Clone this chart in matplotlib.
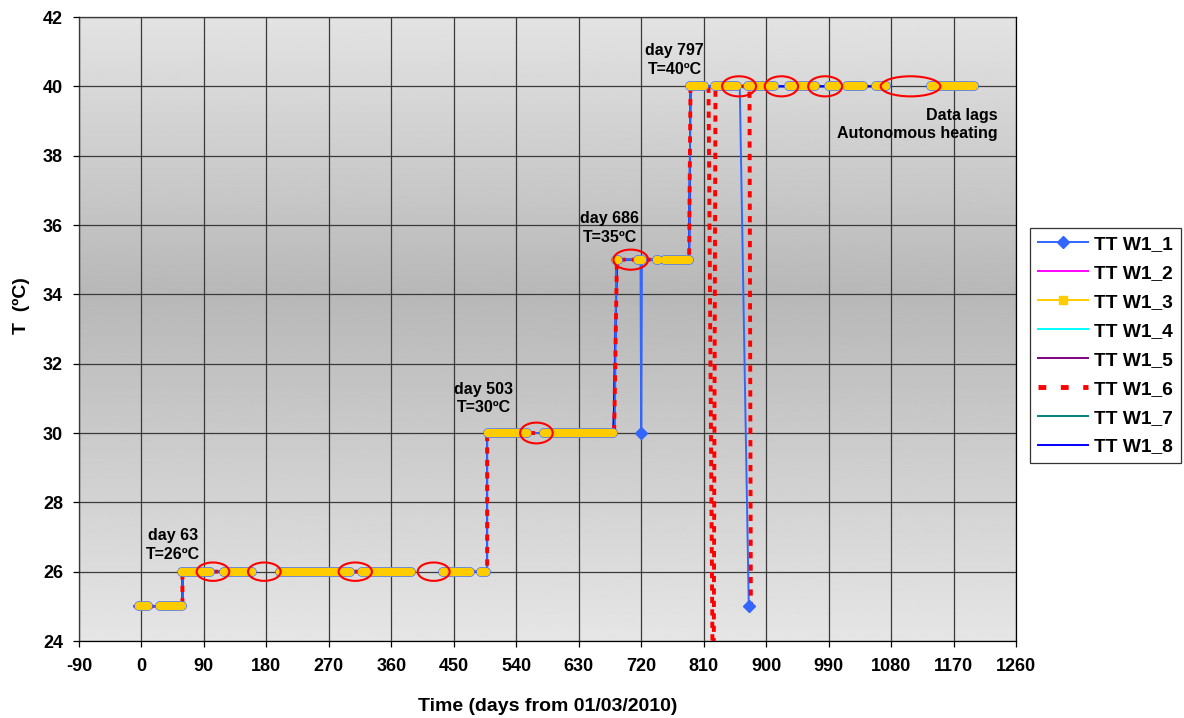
import numpy as np
import matplotlib
matplotlib.use("Agg")
import matplotlib.pyplot as plt
from matplotlib.patches import Ellipse
from matplotlib.lines import Line2D
import matplotlib.patheffects as pe

plt.rcParams['font.family'] = ['Liberation Sans', 'DejaVu Sans']
plt.rcParams['font.weight'] = 'bold'
plt.rcParams['axes.unicode_minus'] = False

nan = np.nan

# TT W1_3 (yellow, dense logging, blank cells = data gaps)
w13_x = [-4, 10, nan, 26, 59, nan, 59, 99, nan, 119, 159, nan, 200, 300, nan, 318, 389, nan,
         435, 473, nan, 489, 497, nan, 499, 556, nan, 580, 680, nan, 684, 686, nan, 716, 721, nan,
         743, 744, nan, 755, 789, nan, 791, 811, nan, 826, 858, nan, 874, 912, nan, 933, 971, nan,
         991, 1002, nan, 1017, 1039, nan, 1058, 1073, nan, 1137, 1199]
w13_y = [25, 25, nan, 25, 25, nan, 26, 26, nan, 26, 26, nan, 26, 26, nan, 26, 26, nan,
         26, 26, nan, 26, 26, nan, 30, 30, nan, 30, 30, nan, 35, 35, nan, 35, 35, nan,
         35, 35, nan, 35, 35, nan, 40, 40, nan, 40, 40, nan, 40, 40, nan, 40, 40, nan,
         40, 40, nan, 40, 40, nan, 40, 40, nan, 40, 40]

# TT W1_1 (drops to 30 at day ~720 and to 25 at day ~875)
w11_x = [-10, 59, 59, 160, nan, 199, 389, nan, 435, 498, 498, 682, 684, 719, 720, 721, 789, 791, 862, 875]
w11_y = [25, 25, 26, 26, nan, 26, 26, nan, 26, 26, 30, 30, 35, 35, 30, 35, 35, 40, 40, 25]

# TT W1_6 (fails around day 817-827 and drops at day ~877)
w16_x = [-10, 59, 59, 160, nan, 199, 389, nan, 435, 498, 498, 681, 685, 789, 791, 817, 824, 827, 876, 878]
w16_y = [25, 25, 26, 26, nan, 26, 26, nan, 26, 26, 30, 30, 35, 35, 40, 40, 20, 40, 40, 25]

# TT W1_2, W1_4, W1_5, W1_7, W1_8 follow the set-point steps
step_x = [-10, 59, 59, 160, nan, 199, 389, nan, 435, 498, 498, 680, 685, 789, 791, 1073, nan, 1137, 1200]
step_y = [25, 25, 26, 26, nan, 26, 26, nan, 26, 26, 30, 30, 35, 35, 40, 40, nan, 40, 40]

# red circles marking data lags
ell_day = [103, 177, 308, 421, 569, 705, 861, 922, 985, 1108]
ell_T = [26, 26, 26, 26, 30, 35, 40, 40, 40, 40]
ell_w = [47, 47, 48, 46, 47, 50, 49, 48, 49, 86]
ell_h = [0.53, 0.53, 0.53, 0.53, 0.6, 0.58, 0.58, 0.58, 0.58, 0.58]

notes = ["day 63\nT=26ºC", "day 503\nT=30ºC", "day 686\nT=35ºC", "day 797\nT=40ºC"]
note_x = [45, 493, 675, 768]
note_T = [26.77, 31.0, 35.91, 40.76]

fig = plt.figure(figsize=(11.84, 7.18), dpi=100)
ax = fig.add_axes([79 / 1184, 1 - 641 / 718, 937 / 1184, 624 / 718])

# grey gradient plot area
yy = np.linspace(24, 42, 300)
shade = np.interp(yy, [24, 34, 42], [0.90, 0.72, 0.89])
ax.imshow(shade[:, None], extent=[-90, 1260, 24, 42], origin='lower', aspect='auto',
          cmap='gray', vmin=0, vmax=1, zorder=0)

ax.set_xlim(-90, 1260)
ax.set_ylim(24, 42)
ax.set_xticks(np.arange(-90, 1261, 90))
ax.set_yticks(np.arange(24, 43, 2))
ax.grid(True, color='#3a3a3a', linewidth=0.9, zorder=1)
ax.set_axisbelow(False)
ax.tick_params(axis='both', direction='out', length=4.5, width=0.9, labelsize=13)
ax.tick_params(axis='x', pad=8)
ax.tick_params(axis='y', pad=7)
for s in ax.spines.values():
    s.set_linewidth(0.9)

ax.plot(step_x, step_y, color='#ff00ff', lw=1.2, zorder=2)
ax.plot(step_x, step_y, color='#00ffff', lw=1.2, zorder=2)
ax.plot(step_x, step_y, color='#800080', lw=1.2, zorder=2)
ax.plot(step_x, step_y, color='#008080', lw=1.2, zorder=2)
ax.plot(step_x, step_y, color='#0000ff', lw=1.4, zorder=3)
ax.plot(w11_x, w11_y, color='#3366ff', lw=1.4, zorder=3)
ax.plot(w16_x, w16_y, color='#ff0000', lw=2.8, dashes=(1.6, 1.6), zorder=4)
ax.plot(w13_x, w13_y, color='#ffcc00', lw=5.9, solid_capstyle='round', zorder=5,
        path_effects=[pe.withStroke(linewidth=7.1, foreground='#4a78ff', capstyle='round'),
                      pe.Normal()])
ax.plot(w11_x, w11_y, ls='none', marker='D', color='#3366ff', ms=6.5, markevery=[14, 19], zorder=6)

for cx, cy, w, h in zip(ell_day, ell_T, ell_w, ell_h):
    ax.add_patch(Ellipse((cx, cy), w, h, fill=False, edgecolor='#ff0000', lw=1.5, zorder=7))

for txt, tx, ty in zip(notes, note_x, note_T):
    ax.text(tx, ty, txt, ha='center', va='center', multialignment='center',
            fontsize=11.5, fontweight='bold', linespacing=1.3, zorder=8)
ax.text(1234, 38.9, "Data lags\nAutonomous heating", ha='right', va='center',
        multialignment='right', fontsize=11.5, fontweight='bold', linespacing=1.3, zorder=8)

ax.set_xlabel("Time (days from 01/03/2010)", fontsize=14, fontweight='bold', labelpad=16)
ax.set_ylabel("T  (ºC)", fontsize=14, fontweight='bold')
ax.yaxis.set_label_coords(-0.052, 0.538)

handles = [
    Line2D([], [], color='#3366ff', lw=1.4, marker='D', ms=6.5),
    Line2D([], [], color='#ff00ff', lw=1.4),
    Line2D([], [], color='#ffcc00', lw=1.4, marker='s', ms=5.5),
    Line2D([], [], color='#00ffff', lw=1.4),
    Line2D([], [], color='#800080', lw=1.4),
    Line2D([], [], color='#ff0000', lw=3.5, dashes=(1.6, 3.0)),
    Line2D([], [], color='#008080', lw=1.4),
    Line2D([], [], color='#0000ff', lw=1.4),
]
labels = ["TT W1_1", "TT W1_2", "TT W1_3", "TT W1_4", "TT W1_5", "TT W1_6", "TT W1_7", "TT W1_8"]
leg = fig.legend(handles, labels, loc='upper left', bbox_to_anchor=(1030 / 1184, 1 - 228 / 718),
                 bbox_transform=fig.transFigure, frameon=True, fancybox=False, edgecolor='black',
                 fontsize=13.8, handlelength=2.65, handletextpad=0.3, labelspacing=0.6,
                 borderpad=0.4, borderaxespad=0)
leg.get_frame().set_linewidth(0.9)
for t in leg.get_texts():
    t.set_fontweight('bold')

fig.savefig("out.png", dpi=100)
